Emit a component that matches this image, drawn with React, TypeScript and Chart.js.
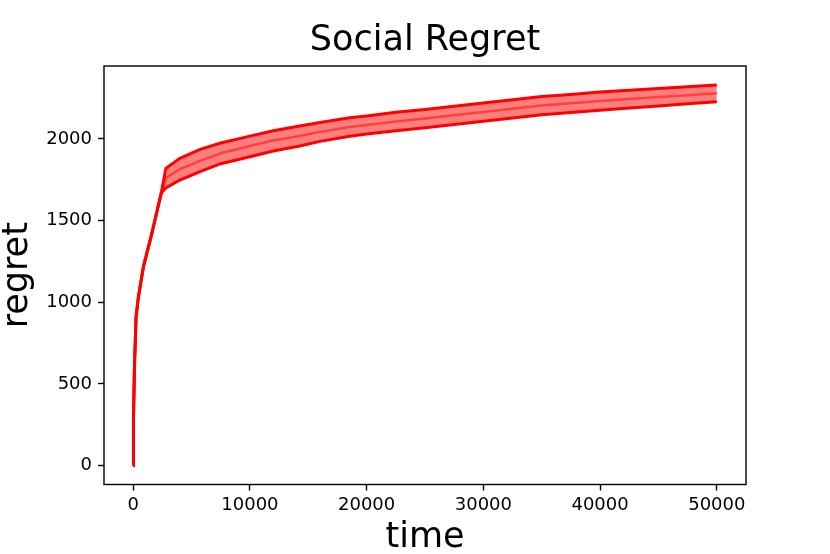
import React, { useEffect, useRef } from "react";
import { Chart, registerables } from "chart.js";

Chart.register(...registerables);

const times = [0, 30, 110, 250, 450, 880, 1600, 2400, 2800, 4000, 5730, 7500, 10000, 12000, 14270, 16000, 18550, 20000, 22500, 25000, 27100, 30000, 32500, 35000, 37500, 40000, 42500, 45000, 47500, 50000];
const meanVals = [0, 300, 606, 912, 1034, 1218, 1422, 1667, 1760, 1815, 1865, 1912, 1957, 1990, 2018, 2043, 2073, 2085, 2107, 2125, 2142, 2165, 2185, 2205, 2218, 2232, 2245, 2256, 2268, 2279];
const upperVals = [0, 300, 606, 912, 1034, 1218, 1422, 1667, 1820, 1881, 1936, 1975, 2017, 2050, 2079, 2100, 2130, 2140, 2163, 2180, 2197, 2220, 2240, 2259, 2272, 2287, 2298, 2308, 2320, 2330];
const lowerVals = [0, 300, 606, 912, 1034, 1218, 1422, 1667, 1700, 1748, 1799, 1848, 1891, 1926, 1957, 1985, 2016, 2030, 2050, 2068, 2085, 2108, 2128, 2148, 2162, 2176, 2190, 2202, 2215, 2228];

const xTicks = [0, 10000, 20000, 30000, 40000, 50000];
const yTicks = [0, 500, 1000, 1500, 2000];

const titleText = "Social Regret";
const xLabel = "time";
const yLabel = "regret";

const FONT = "'DejaVu Sans', sans-serif";

const frame = {
  id: "frame",
  afterDraw(chart: any) {
    const { ctx, chartArea } = chart;
    ctx.save();
    ctx.strokeStyle = "#000";
    ctx.lineWidth = 1.4;
    ctx.strokeRect(chartArea.left, chartArea.top, chartArea.right - chartArea.left, chartArea.bottom - chartArea.top);
    ctx.restore();
  },
};

export default function App() {
  const ref = useRef<HTMLCanvasElement>(null);
  useEffect(() => {
    const pts = (vals: number[]) => times.map((t, i) => ({ x: t, y: vals[i] }));
    const chart = new Chart(ref.current as HTMLCanvasElement, {
      type: "line",
      data: {
        datasets: [
          {
            data: pts(lowerVals),
            borderColor: "rgb(255,0,0)",
            borderWidth: 3,
            pointRadius: 0,
            fill: false,
            tension: 0,
          },
          {
            data: pts(upperVals),
            borderColor: "rgb(255,0,0)",
            borderWidth: 3,
            pointRadius: 0,
            fill: "-1",
            backgroundColor: "rgba(255,0,0,0.5)",
            tension: 0,
          },
          {
            data: pts(meanVals),
            borderColor: "rgba(255,0,0,0.5)",
            borderWidth: 2.5,
            pointRadius: 0,
            fill: false,
            tension: 0,
          },
        ],
      },
      options: {
        animation: false,
        responsive: false,
        maintainAspectRatio: false,
        layout: { padding: { left: 0, right: 84, top: 0, bottom: 0 } },
        plugins: {
          legend: { display: false },
          tooltip: { enabled: false },
          title: {
            display: true,
            fullSize: false,
            text: titleText,
            color: "#000",
            font: { family: FONT, size: 35, weight: "normal", lineHeight: 1 },
            padding: { top: 23, bottom: 8 },
          },
        },
        scales: {
          x: {
            type: "linear",
            min: -2500,
            max: 52500,
            afterFit: (s: any) => {
              s.height = 69.5;
            },
            afterBuildTicks: (s: any) => {
              s.ticks = xTicks.map((v) => ({ value: v }));
            },
            ticks: {
              color: "#000",
              font: { family: FONT, size: 18 },
              padding: 4,
              maxRotation: 0,
              autoSkip: false,
              callback: (v: any) => String(v),
            },
            grid: {
              drawOnChartArea: false,
              drawTicks: true,
              tickLength: 6,
              tickWidth: 1.4,
              tickColor: "#000",
            },
            border: { display: false },
            title: {
              display: true,
              text: xLabel,
              color: "#000",
              font: { family: FONT, size: 35, lineHeight: 0.94 },
              padding: 0,
            },
          },
          y: {
            type: "linear",
            min: -116.5,
            max: 2446.5,
            afterFit: (s: any) => {
              s.width = 104;
            },
            afterBuildTicks: (s: any) => {
              s.ticks = yTicks.map((v) => ({ value: v }));
            },
            ticks: {
              color: "#000",
              font: { family: FONT, size: 18 },
              padding: 6,
              autoSkip: false,
              callback: (v: any) => String(v),
            },
            grid: {
              drawOnChartArea: false,
              drawTicks: true,
              tickLength: 6,
              tickWidth: 1.4,
              tickColor: "#000",
            },
            border: { display: false },
            title: {
              display: true,
              text: yLabel,
              color: "#000",
              font: { family: FONT, size: 35, lineHeight: 1.03 },
              padding: 0,
            },
          },
        },
      },
      plugins: [frame],
    });
    return () => chart.destroy();
  }, []);
  return (
    <div style={{ position: "fixed", left: 0, top: 0, width: 830, height: 554, background: "#fff" }}>
      <canvas ref={ref} width={830} height={554} style={{ display: "block" }} />
    </div>
  );
}
